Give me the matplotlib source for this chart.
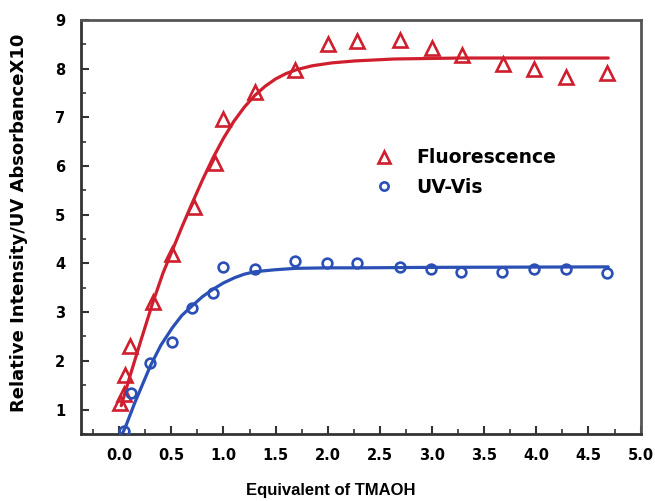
import matplotlib
matplotlib.use("Agg")
import matplotlib.pyplot as plt
from matplotlib.ticker import MultipleLocator, FormatStrFormatter

plt.rcParams['font.family'] = ['DejaVu Sans']

# Fluorescence data (red triangles)
fl_x = [0.01, 0.05, 0.06, 0.10, 0.32, 0.51, 0.72, 0.92, 1.00, 1.30, 1.69, 2.00, 2.28, 2.69, 3.00, 3.29, 3.68, 3.98, 4.28, 4.68]
fl_y = [1.13, 1.32, 1.70, 2.31, 3.21, 4.20, 5.17, 6.06, 6.96, 7.52, 7.98, 8.51, 8.57, 8.58, 8.42, 8.29, 8.09, 8.00, 7.84, 7.91]

# UV-Vis data (blue circles)
uv_x = [0.05, 0.11, 0.30, 0.51, 0.70, 0.90, 1.00, 1.30, 1.69, 1.99, 2.28, 2.69, 2.99, 3.28, 3.67, 3.98, 4.28, 4.68]
uv_y = [0.55, 1.34, 1.95, 2.38, 3.09, 3.39, 3.93, 3.89, 4.05, 4.00, 4.00, 3.93, 3.88, 3.82, 3.82, 3.88, 3.88, 3.81]

# Fitted curves
fl_fit_x = [0.02, 0.10, 0.20, 0.32, 0.42, 0.51, 0.60, 0.70, 0.80, 0.90, 1.00, 1.10, 1.20, 1.30, 1.40, 1.50, 1.60, 1.70, 1.85, 2.04, 2.26, 2.64, 3.28, 4.69]
fl_fit_y = [1.08, 1.66, 2.36, 3.18, 3.80, 4.27, 4.74, 5.24, 5.72, 6.17, 6.57, 6.92, 7.21, 7.45, 7.64, 7.79, 7.90, 7.98, 8.06, 8.12, 8.16, 8.20, 8.22, 8.22]

uv_fit_x = [0.03, 0.06, 0.15, 0.30, 0.40, 0.51, 0.60, 0.70, 0.80, 0.90, 1.00, 1.11, 1.20, 1.30, 1.49, 1.69, 2.00, 2.28, 3.00, 4.69]
uv_fit_y = [0.50, 0.64, 1.14, 1.90, 2.32, 2.68, 2.93, 3.13, 3.32, 3.47, 3.60, 3.71, 3.78, 3.83, 3.87, 3.90, 3.91, 3.91, 3.92, 3.93]

red = '#cf1f2e'
blue = '#2b50b5'

fig = plt.figure(figsize=(6.55, 5.01), dpi=100)
ax = fig.add_axes([0.123, 0.134, 0.855, 0.826])

ax.plot(fl_fit_x, fl_fit_y, color=red, lw=2.3, solid_capstyle='round', solid_joinstyle='round', zorder=2)
ax.plot(uv_fit_x, uv_fit_y, color=blue, lw=2.3, solid_capstyle='round', solid_joinstyle='round', zorder=2)
ax.plot(fl_x, fl_y, linestyle='none', marker='^', markersize=10, markerfacecolor='none',
        markeredgecolor=red, markeredgewidth=1.9, label='Fluorescence', zorder=3)
ax.plot(uv_x, uv_y, linestyle='none', marker='o', markersize=7, markerfacecolor='none',
        markeredgecolor=blue, markeredgewidth=1.9, label='UV-Vis', zorder=3)

ax.set_xlim(-0.37, 5.0)
ax.set_ylim(0.5, 9.0)

ax.xaxis.set_major_locator(MultipleLocator(0.5))
ax.xaxis.set_minor_locator(MultipleLocator(0.25))
ax.yaxis.set_major_locator(MultipleLocator(1))
ax.yaxis.set_minor_locator(MultipleLocator(0.5))
ax.xaxis.set_major_formatter(FormatStrFormatter('%.1f'))
ax.set_yticks([1, 2, 3, 4, 5, 6, 7, 8, 9])

ax.tick_params(axis='both', which='both', direction='in', color='#333333')
ax.tick_params(axis='both', which='major', length=6, width=1.5, labelsize=10.5)
ax.tick_params(axis='both', which='minor', length=3.5, width=1.2)
ax.tick_params(axis='x', which='major', pad=10)
ax.tick_params(axis='y', which='major', pad=11)
for lab in ax.get_xticklabels() + ax.get_yticklabels():
    lab.set_fontweight('bold')

for side in ['left', 'bottom']:
    ax.spines[side].set_linewidth(2.0)
    ax.spines[side].set_color('#333333')
for side in ['top', 'right']:
    ax.spines[side].set_linewidth(2.0)
    ax.spines[side].set_color('#555555')

ax.set_xlabel('Equivalent of TMAOH', fontsize=12, fontweight='bold',
              family=['Liberation Sans', 'DejaVu Sans'])
ax.set_ylabel('Relative Intensity/UV AbsorbanceX10', fontsize=13, fontweight='bold')
ax.xaxis.set_label_coords(0.447, -0.118)
ax.yaxis.set_label_coords(-0.094, 0.51)

leg = ax.legend(loc='upper left', bbox_to_anchor=(0.525, 0.69), frameon=False, borderpad=0,
                borderaxespad=0, prop={'size': 13.5, 'weight': 'bold'}, handletextpad=1.2,
                labelspacing=0.55, handlelength=1.0, markerscale=0.85)

fig.savefig('out.png', dpi=100, facecolor='white')
